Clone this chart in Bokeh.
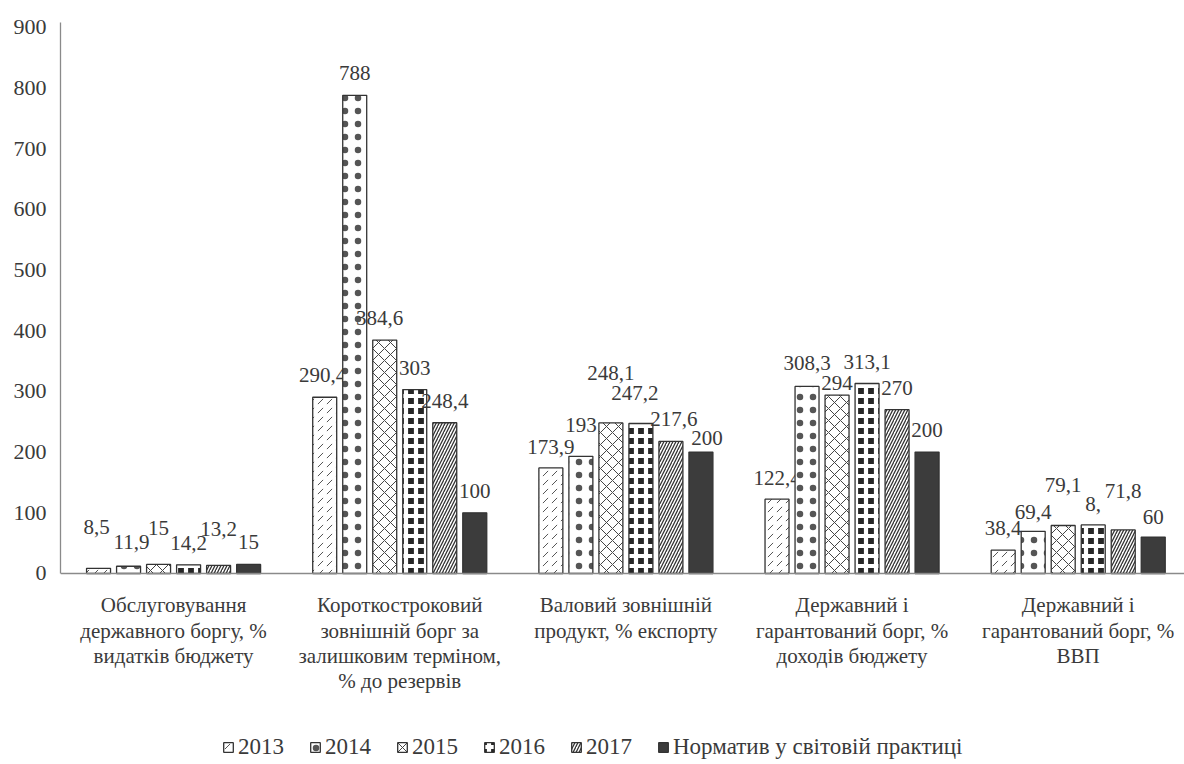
from bokeh.plotting import figure
from bokeh.models import ColumnDataSource, Range1d, FixedTicker, Legend, LegendItem, Span
from bokeh.core.properties import value
from bokeh.embed import file_html
from bokeh.resources import INLINE

# ---------------- data ----------------
categories = [
    "Обслуговування\nдержавного боргу, %\nвидатків бюджету",
    "Короткостроковий\nзовнішній борг за\nзалишковим терміном,\n% до резервів",
    "Валовий зовнішній\nпродукт, % експорту",
    "Державний і\nгарантований борг, %\nдоходів бюджету",
    "Державний і\nгарантований борг, %\nВВП",
]
series_names = ["2013", "2014", "2015", "2016", "2017", "Норматив у світовій практиці"]
v2013 = [8.5, 290.4, 173.9, 122.4, 38.4]
v2014 = [11.9, 788, 193, 308.3, 69.4]
v2015 = [15, 384.6, 248.1, 294, 79.1]
v2016 = [14.2, 303, 247.2, 313.1, 80]
v2017 = [13.2, 248.4, 217.6, 270, 71.8]
vnorm = [15, 100, 200, 200, 60]
# label texts as printed (one is partly hidden in the source)
lab2016 = ["14,2", "303", "247,2", "313,1", "8,"]
y_ticks = [0, 100, 200, 300, 400, 500, 600, 700, 800, 900]

# ---------------- layout / style (not data) ----------------
label_lift = [
    [19, 0, -1, -1, 0],
    [2, 0, 9, 1, -3],
    [14, 0, 28, -10, 18],
    [0, 0, 8, -1, -1],
    [14, 0, 0, 0, 17],
    [0, 0, -8, 0, -2],
]
label_shift = [
    [-2, -2, 0, 0, 0],
    [3, 0, 0, 0, 0],
    [0, -5, 0, 0, 0],
    [0, 0, -6, 0, 0],
    [0, 0, 3, 0, 0],
    [0, 0, 6, 0, 0],
]

FONT = "Liberation Serif"
TXT = "#3a3a3a"
OUT = "#333333"

styles = [
    dict(fill_color="white", hatch_pattern=value(","), hatch_color="#555555", hatch_scale=9, hatch_weight=1.0),
    dict(fill_color="white", hatch_pattern=value("."), hatch_color="#555555", hatch_scale=13, hatch_weight=1.0),
    dict(fill_color="white", hatch_pattern=value("x"), hatch_color="#444444", hatch_scale=12, hatch_weight=1.0),
    dict(fill_color="#262626", hatch_pattern=value("+"), hatch_color="white", hatch_scale=10, hatch_weight=4.2),
    dict(fill_color="white", hatch_pattern=value("/"), hatch_color="#333333", hatch_scale=6, hatch_weight=1.3),
    dict(fill_color="#3c3c3c"),
]

all_values = [v2013, v2014, v2015, v2016, v2017, vnorm]
n_series = len(all_values)
pitch = 0.1327
bar_w = 0.106
centers = [c + 0.5 for c in range(len(categories))]

# the frame reaches the bottom of the page; the value axis only covers 0..908
p = figure(width=1184, height=764, output_backend="svg", toolbar_location=None,
           x_range=Range1d(0, 4.97), y_range=Range1d(-314.8, 908),
           x_axis_location=None,
           min_border_left=60, min_border_right=0, min_border_top=22, min_border_bottom=0,
           outline_line_color=None, background_fill_color="white", border_fill_color="white")
p.xgrid.visible = False
p.ygrid.visible = False

items = []
for i, (name, vals) in enumerate(zip(series_names, all_values)):
    xs = [c + (i - (n_series - 1) / 2) * pitch for c in centers]
    if i == 3:
        texts = lab2016
    else:
        texts = [("%g" % v).replace(".", ",") for v in vals]
    src = ColumnDataSource(dict(
        x=xs, top=vals, text=texts,
        dy=[-(22 + l) for l in label_lift[i]],
        dx=label_shift[i],
    ))
    r = p.vbar(x="x", top="top", width=bar_w, bottom=0, source=src,
               line_color=OUT, line_width=1.3, **styles[i])
    p.text(x="x", y="top", text="text", source=src, x_offset="dx", y_offset="dy",
           text_align="center", text_baseline="middle",
           text_font=value(FONT), text_font_size="21px", text_color=TXT)
    items.append(LegendItem(label=name, renderers=[r]))

# category axis line at zero and category labels under it
p.add_layout(Span(location=0, dimension="width", line_color="#8a8a8a", line_width=1.3))
cat_src = ColumnDataSource(dict(x=centers, y=[0] * len(centers), text=categories))
p.text(x="x", y="y", text="text", source=cat_src, y_offset=20,
       text_align="center", text_baseline="top", text_line_height=1.05,
       text_font=value(FONT), text_font_size="21px", text_color=TXT)

ya = p.yaxis[0]
ya.ticker = FixedTicker(ticks=y_ticks)
ya.bounds = (0, 908)
ya.major_tick_in = 0
ya.major_tick_out = 0
ya.minor_tick_in = 0
ya.minor_tick_out = 0
ya.major_label_standoff = 14
ya.major_label_text_font = FONT
ya.major_label_text_font_size = "22px"
ya.major_label_text_color = TXT
ya.axis_line_color = "#8a8a8a"
ya.axis_line_width = 1.3

legend = Legend(items=items, orientation="horizontal", location=(162, 4),
                label_text_font=FONT, label_text_font_size="23px", label_text_color=TXT,
                glyph_width=12, glyph_height=12, label_standoff=4, spacing=25,
                padding=0, margin=0, border_line_color=None, background_fill_alpha=0,
                label_height=20)
p.add_layout(legend, "center")

open("out.html", "w").write(file_html(p, INLINE))
